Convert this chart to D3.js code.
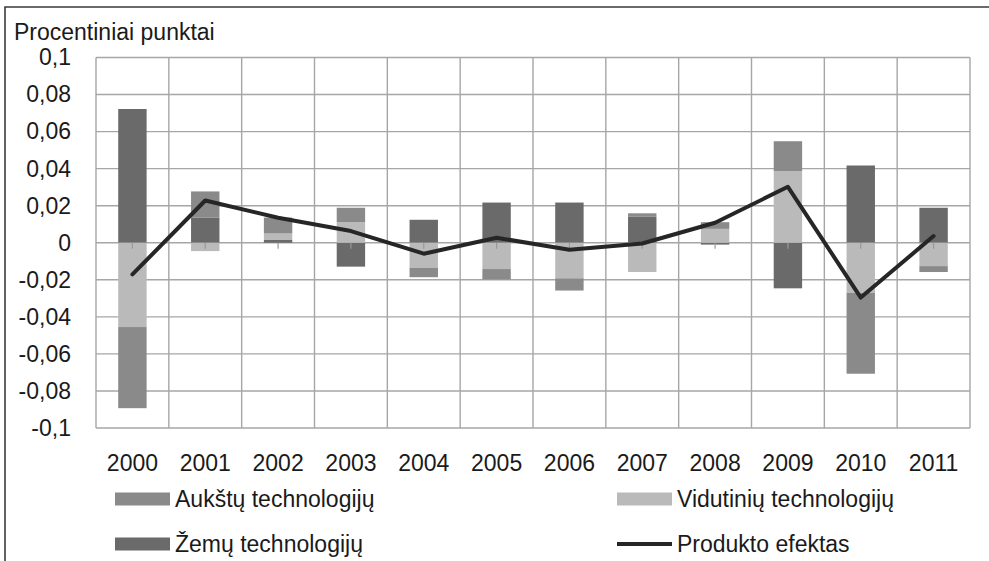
<!DOCTYPE html>
<html>
<head>
<meta charset="utf-8">
<script src="https://cdn.jsdelivr.net/npm/d3@7"></script>
<style>
  body { margin: 0; background: #fff; }
  svg text { font-family: "Liberation Sans", Arial, sans-serif; fill: #1a1a1a; }
</style>
</head>
<body>
<div id="chart"></div>
<script>
// values (percentage points)
const years = ["2000", "2001", "2002", "2003", "2004", "2005", "2006", "2007", "2008", "2009", "2010", "2011"];
const aukstu = [-0.0438, 0.0142, 0.0086, 0.0078, -0.0051, -0.0056, -0.0066, 0.0019, 0.0036, 0.0162, -0.0437, -0.0032];
const vidutiniu = [-0.0455, -0.0045, 0.0035, 0.0111, -0.0135, -0.0142, -0.0192, -0.0158, 0.0075, 0.0386, -0.0270, -0.0126];
const zemu = [0.0722, 0.0135, 0.0015, -0.0129, 0.0124, 0.0217, 0.0217, 0.0140, -0.0010, -0.0246, 0.0417, 0.0189];
const produkto = [-0.0171, 0.0228, 0.0135, 0.0063, -0.0059, 0.0027, -0.0038, -0.0004, 0.0108, 0.0302, -0.0296, 0.0036];
const yTicks = [-0.1, -0.08, -0.06, -0.04, -0.02, 0, 0.02, 0.04, 0.06, 0.08, 0.1];

const W = 989, H = 561;
const svg = d3.select("#chart").append("svg").attr("width", W).attr("height", H);

// outer frame (only top and left edges show)
svg.append("path")
    .attr("d", "M5,561V7H989")
    .attr("fill", "none").attr("stroke", "#3a3a3a").attr("stroke-width", 1.6);

const x = d3.scaleBand().domain(years).range([96, 970]).paddingInner(0.61).paddingOuter(0.305);
const y = d3.scaleLinear().domain([-0.1, 0.1]).range([428, 57.5]);
const step = x.step();

const fmt = d => d === 0 ? "0" : String(+d.toFixed(2)).replace(".", ",");

// horizontal grid
svg.append("g").selectAll("line")
    .data(yTicks)
    .enter().append("line")
    .attr("x1", 96).attr("x2", 970)
    .attr("y1", d => y(d)).attr("y2", d => y(d))
    .attr("stroke", "#a6a6a6").attr("stroke-width", 1.4);

// vertical grid at category boundaries
svg.append("g").selectAll("line")
    .data(d3.range(years.length + 1))
    .enter().append("line")
    .attr("x1", i => 96 + i * step).attr("x2", i => 96 + i * step)
    .attr("y1", y(0.1)).attr("y2", y(-0.1))
    .attr("stroke", "#a6a6a6").attr("stroke-width", 1.4);

// stacked bars, positives and negatives stacked apart
const keys = ["zemu", "vidutiniu", "aukstu"];
const colors = { aukstu: "#8a8a8a", vidutiniu: "#bababa", zemu: "#6a6a6a" };
const rows = years.map((yr, i) => ({ year: yr, aukstu: aukstu[i], vidutiniu: vidutiniu[i], zemu: zemu[i] }));
const series = d3.stack().keys(keys).offset(d3.stackOffsetDiverging)(rows);

svg.append("g").selectAll("g")
    .data(series)
    .enter().append("g")
    .attr("fill", d => colors[d.key])
    .selectAll("rect")
    .data(d => d)
    .enter().append("rect")
    .attr("x", d => x(d.data.year))
    .attr("width", x.bandwidth())
    .attr("y", d => y(Math.max(d[0], d[1])))
    .attr("height", d => Math.abs(y(d[0]) - y(d[1])));

// small category ticks under the zero line
svg.append("g").selectAll("line")
    .data(years)
    .enter().append("line")
    .attr("x1", d => x(d) + x.bandwidth() / 2).attr("x2", d => x(d) + x.bandwidth() / 2)
    .attr("y1", y(0)).attr("y2", y(0) + 6)
    .attr("stroke", "#999").attr("stroke-width", 1.2);

// line
const line = d3.line()
    .x((d, i) => x(years[i]) + x.bandwidth() / 2)
    .y(d => y(d));
svg.append("path")
    .datum(produkto)
    .attr("d", line)
    .attr("fill", "none").attr("stroke", "#262626").attr("stroke-width", 4)
    .attr("stroke-linejoin", "round").attr("stroke-linecap", "round");

// axes labels
const yAxis = svg.append("g").attr("transform", "translate(96,0)")
    .call(d3.axisLeft(y).tickValues(yTicks).tickFormat(fmt).tickSize(0).tickPadding(25));
yAxis.select(".domain").remove();
yAxis.selectAll("text").attr("font-size", 23).attr("font-family", null);

const xAxis = svg.append("g").attr("transform", "translate(0,428)")
    .call(d3.axisBottom(x).tickSize(0).tickPadding(27));
xAxis.select(".domain").remove();
xAxis.selectAll("text").attr("font-size", 23).attr("font-family", null);

svg.append("text").attr("x", 14).attr("y", 40).attr("font-size", 23).text("Procentiniai punktai");

// legend
const legend = [
    { label: "Aukštų technologijų", key: "aukstu", lx: 115, ly: 499 },
    { label: "Vidutinių technologijų", key: "vidutiniu", lx: 617, ly: 499 },
    { label: "Žemų technologijų", key: "zemu", lx: 115, ly: 544 },
    { label: "Produkto efektas", key: "line", lx: 617, ly: 544 }
];
const lg = svg.append("g").selectAll("g").data(legend).enter().append("g")
    .attr("transform", d => `translate(${d.lx},${d.ly})`);
lg.filter(d => d.key !== "line").append("rect")
    .attr("x", 0).attr("y", -6.5).attr("width", 55).attr("height", 13)
    .attr("fill", d => colors[d.key]);
lg.filter(d => d.key === "line").append("line")
    .attr("x1", 0).attr("x2", 55).attr("y1", 0).attr("y2", 0)
    .attr("stroke", "#262626").attr("stroke-width", 4);
lg.append("text").attr("x", 60).attr("y", 0).attr("dy", "0.35em")
    .attr("font-size", 23).text(d => d.label);
</script>
</body>
</html>
